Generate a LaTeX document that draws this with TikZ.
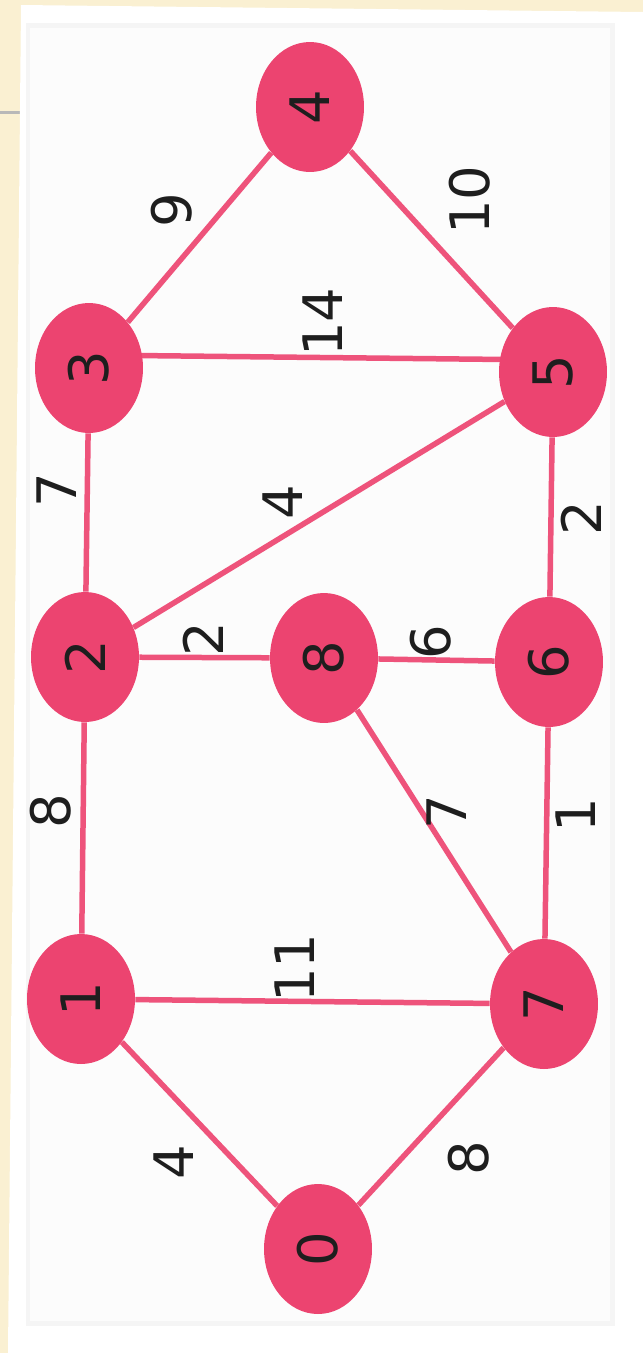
\documentclass[tikz,border=0pt]{standalone}
\usepackage{fontspec}
\setmainfont{DejaVu Sans}
\usetikzlibrary{shapes.geometric,backgrounds}
\definecolor{paper}{HTML}{FAF0D2}
\definecolor{vertexred}{HTML}{EC4470}
\definecolor{labelgray}{HTML}{1E1E1E}

\begin{document}
\begin{tikzpicture}[x=0.02cm,y=-0.02cm,line cap=round,line join=round,
  vertex/.style={ellipse,fill=vertexred,text=labelgray,rotate=90,
    minimum width=2.6cm,minimum height=2.16cm,inner sep=0pt,
    font=\fontsize{31}{31}\selectfont},
  edge/.style={draw=vertexred!92!white,line width=0.11cm},
  weight/.style={rotate=90,text=labelgray,inner sep=0pt,
    font=\fontsize{31}{31}\selectfont}]
  \useasboundingbox (0,0) rectangle (643,1353);

  % vertices
  \node[vertex] (n4) at (310,107) {4};
  \node[vertex] (n3) at (89,368) {3};
  \node[vertex] (n5) at (553,372) {5};
  \node[vertex] (n2) at (85,657) {2};
  \node[vertex] (n8) at (324,658) {8};
  \node[vertex] (n6) at (549,662) {6};
  \node[vertex] (n1) at (81,999) {1};
  \node[vertex] (n7) at (544,1004) {7};
  \node[vertex] (n0) at (318,1249) {0};

  \begin{scope}[on background layer]
    % page and plot panel
    \fill[paper] (0,0) rectangle (643,1353);
    \draw[black!28,line width=0.06cm] (0,112) -- (21,112);
    \fill[white] (21,5) -- (643,12) -- (643,1353) -- (8,1353) -- cycle;
    \filldraw[fill=black!1,draw=black!4,line width=0.1cm] (28,25) rectangle (612,1323);
    % edges
    \draw[edge] (n3) -- (n4);
    \draw[edge] (n4) -- (n5);
    \draw[edge] ([yshift=0.26cm]n3.center) -- ([yshift=0.24cm]n5.center);
    \draw[edge] (n2) -- (n3);
    \draw[edge] (n2) -- (n5);
    \draw[edge] (n5) -- (n6);
    \draw[edge] (n2) -- (n8);
    \draw[edge] (n8) -- (n6);
    \draw[edge] (n1) -- (n2);
    \draw[edge] (n8) -- (n7);
    \draw[edge] (n6) -- (n7);
    \draw[edge] (n1) -- (n7);
    \draw[edge] (n0) -- (n1);
    \draw[edge] (n0) -- (n7);
  \end{scope}

  % weights
  \node[weight] (w34) at (172,210) {9};
  \node[weight] (w45) at (470,200) {10};
  \node[weight] (w35) at (323,322) {14};
  \node[weight] (w23) at (57,490) {7};
  \node[weight] (w25) at (283,502) {4};
  \node[weight] (w56) at (581,518) {2};
  \node[weight] (w28) at (203,639) {2};
  \node[weight] (w86) at (431,642) {6};
  \node[weight] (w12) at (51,811) {8};
  \node[weight] (w87) at (447,812) {7};
  \node[weight] (w67) at (576,815) {1};
  \node[weight] (w17) at (295,968) {11};
  \node[weight] (w01) at (174,1162) {4};
  \node[weight] (w07) at (469,1158) {8};
\end{tikzpicture}
\end{document}
